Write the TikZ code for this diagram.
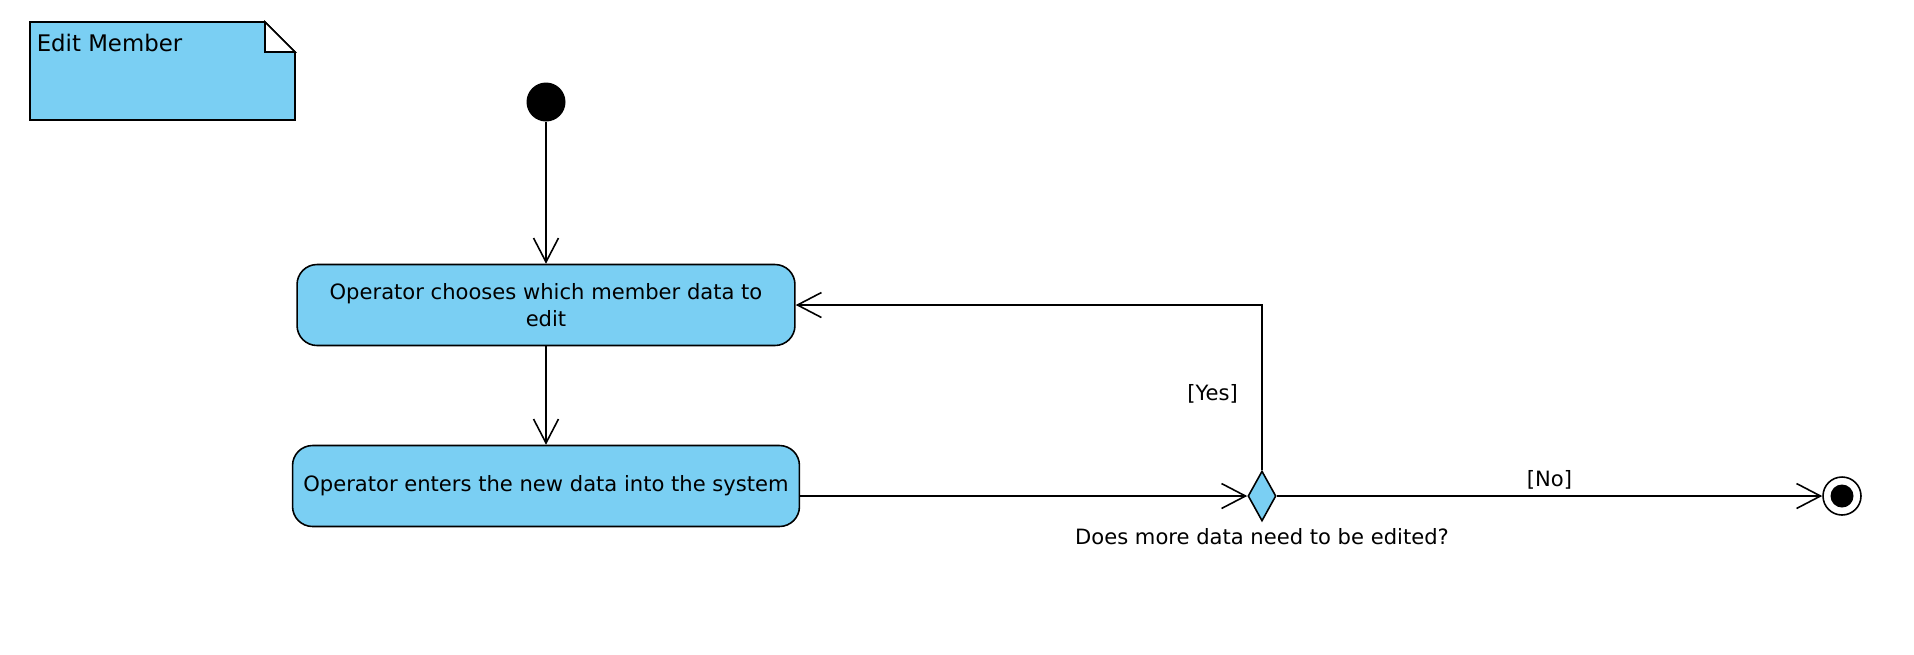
\documentclass[tikz,border=0pt]{standalone}
\usepackage{fontspec}
\setmainfont{DejaVu Sans}
\usetikzlibrary{arrows.meta,shapes.geometric}
\definecolor{actblue}{RGB}{122,207,243}
\begin{document}
\begin{tikzpicture}[x=0.02cm,y=-0.02cm,
	line width=0.9pt,
	txt/.style={font=\fontsize{12}{15}\selectfont},
	action/.style={txt,draw,fill=actblue,rounded corners=0.4cm,align=center,inner sep=0pt},
	flow/.style={-{Straight Barb[length=0.48cm,width=0.5cm]}},
	startnode/.style={circle,fill=black,minimum size=0.78cm,inner sep=0pt},
	endnode/.style={circle,draw,fill=white,minimum size=0.76cm,inner sep=0pt},
	enddot/.style={circle,fill=black,minimum size=0.46cm,inner sep=0pt},
	choice/.style={diamond,draw,fill=actblue,minimum width=0.56cm,minimum height=1cm,inner sep=0pt}]
	\useasboundingbox (0,0) rectangle (1914,654);

	% note
	\draw[fill=actblue] (30,22) -- (265,22) -- (295,52) -- (295,120) -- (30,120) -- cycle;
	\draw[fill=white] (265,22) -- (295,52) -- (265,52) -- cycle;
	\node[font=\fontsize{13}{16}\selectfont,anchor=north west,inner sep=0pt] (title) at (36,33) {Edit Member};

	\node[startnode] (start) at (546,102) {};
	\node[action,minimum width=9.96cm,minimum height=1.62cm] (choose) at (546,305)
		{Operator chooses which member data to\\edit};
	\node[action,minimum width=10.14cm,minimum height=1.62cm] (enter) at (546,486)
		{Operator enters the new data into the system};
	\node[choice] (decide) at (1262,496) {};
	\node[txt] (ask) at (1262,537) {Does more data need to be edited?};
	\node[endnode] (end) at (1842,496) {};
	\node[enddot] (enddot) at (end) {};

	\draw[flow] (start) -- (choose);
	\draw[flow] (choose) -- (enter);
	\draw[flow] (decide.west -| enter.east) -- (decide.west);
	\draw[flow] (decide.north) |- node[txt,pos=0.23,left=0.35cm] {[Yes]} (choose.east);
	\draw[flow] (decide.east) -- node[txt,above] {[No]} (end);
\end{tikzpicture}
\end{document}
